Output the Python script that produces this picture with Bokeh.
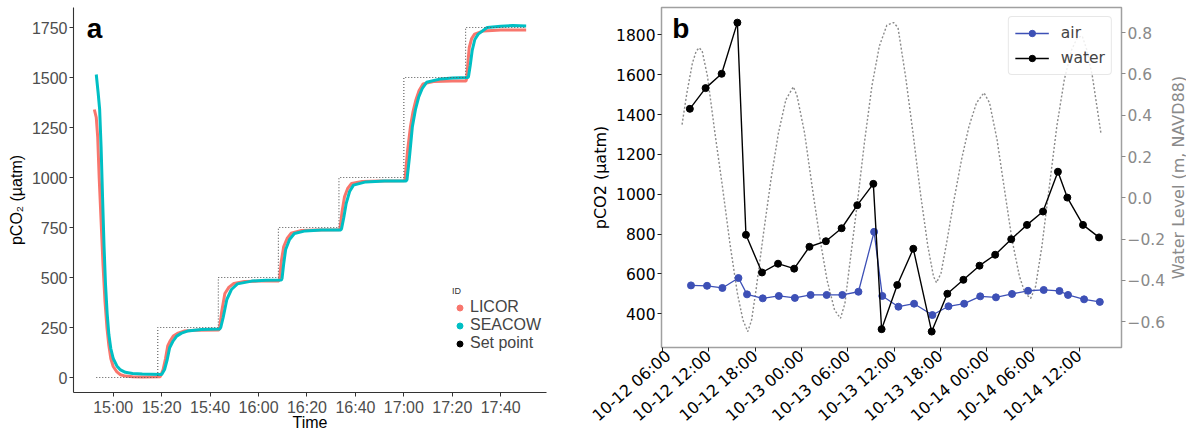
import math
from bokeh.plotting import figure
from bokeh.layouts import row
from bokeh.models import FixedTicker, Range1d, LinearAxis, Label, Legend, LegendItem
from bokeh.embed import file_html
from bokeh.resources import INLINE

# ---------------- Panel a: calibration steps (minutes after 15:00) ----------------
a_tick_minutes = [0, 20, 40, 60, 80, 100, 120, 140, 160]
a_tick_labels = ["15:00", "15:20", "15:40", "16:00", "16:20", "16:40", "17:00", "17:20", "17:40"]
a_y_ticks = [0, 250, 500, 750, 1000, 1250, 1500, 1750]

setpoint_t = [-7.0, 18.4, 18.4, 43.4, 43.4, 68.2, 68.2, 93.2, 93.2, 120.0, 120.0, 145.5, 145.5, 170.5]
setpoint_v = [0, 0, 250, 250, 500, 500, 750, 750, 1000, 1000, 1500, 1500, 1750, 1750]

licor_t = [-7.8, -7.0, -6.4, -5.8, -5.0, -4.2, -3.4, -2.6, -1.8, -1.0, 0.0, 1.5, 3.0, 5.0, 8.0, 12.0, 19.4,
           20.6, 21.6, 22.5, 23.6, 24.8, 26.8, 29.2, 33.6, 43.5,
           43.9, 44.8, 46.1, 47.8, 49.8, 54.2, 60.0, 68.4,
           68.7, 69.4, 70.4, 71.8, 73.4, 77.8, 84.0, 93.4,
           93.7, 94.5, 95.5, 96.8, 98.4, 102.8, 110.0, 120.2,
           120.5, 121.5, 122.7, 123.8, 124.9, 126.3, 127.9, 132.3, 140.0, 145.7,
           146.0, 146.5, 147.0, 148.0, 149.2, 152.9, 160.0, 170.5]
licor_v = [1340, 1300, 1200, 1000, 780, 560, 380, 250, 160, 95, 55, 28, 14, 7, 4, 3, 4,
           40, 95, 158, 185, 207, 222, 232, 236, 237,
           245, 330, 420, 452, 470, 480, 482, 483,
           495, 580, 655, 695, 721, 735, 738, 739,
           750, 830, 904, 945, 970, 980, 983, 984,
           995, 1130, 1252, 1330, 1385, 1435, 1468, 1480, 1482, 1483,
           1500, 1580, 1650, 1695, 1717, 1733, 1737, 1737]

seacow_t = [-7.0, -6.2, -5.6, -5.0, -4.4, -3.8, -3.2, -2.5, -1.8, -1.0, 0.0, 1.5, 3.0, 5.0, 8.0, 12.0, 20.0,
            21.2, 22.3, 23.3, 24.6, 26.2, 28.2, 30.6, 36.5, 44.0,
            44.4, 45.4, 46.9, 48.8, 51.3, 57.2, 63.0, 69.4,
            69.7, 70.4, 71.2, 72.8, 74.8, 79.3, 86.0, 94.0,
            94.3, 95.2, 96.2, 97.6, 99.2, 104.3, 112.0, 121.0,
            121.3, 122.3, 123.5, 124.8, 126.1, 127.6, 129.4, 135.2, 140.0, 146.4,
            146.7, 147.4, 148.2, 149.3, 150.7, 154.4, 160.0, 165.0, 170.5]
seacow_v = [1515, 1420, 1340, 1150, 900, 660, 470, 320, 215, 145, 95, 58, 38, 26, 20, 17, 15,
            40, 90, 149, 180, 207, 222, 232, 240, 243,
            250, 300, 390, 440, 468, 482, 486, 487,
            495, 570, 640, 690, 720, 733, 737, 738,
            745, 800, 871, 930, 962, 978, 982, 983,
            990, 1100, 1252, 1340, 1401, 1445, 1476, 1493, 1497, 1500,
            1505, 1560, 1634, 1690, 1717, 1750, 1756, 1760, 1758]

# ---------------- Panel b: field record (hours since 10-12 00:00) ----------------
b_tick_hours = [6, 12, 18, 24, 30, 36, 42, 48, 54, 60]
b_tick_labels = ["10-12 06:00", "10-12 12:00", "10-12 18:00", "10-13 00:00", "10-13 06:00",
                 "10-13 12:00", "10-13 18:00", "10-14 00:00", "10-14 06:00", "10-14 12:00"]
b_left_ticks = [400, 600, 800, 1000, 1200, 1400, 1600, 1800]
b_right_ticks = [-0.6, -0.4, -0.2, 0.0, 0.2, 0.4, 0.6, 0.8]
b_right_labels = ["\u22120.6", "\u22120.4", "\u22120.2", "0.0", "0.2", "0.4", "0.6", "0.8"]

water_hours = [9.53, 11.57, 13.65, 15.69, 16.80, 18.88, 20.96, 23.05, 25.03, 27.16, 29.20, 31.23, 33.31, 34.38,
               36.41, 38.49, 40.87, 42.90, 44.98, 47.07, 49.10, 51.18, 53.22, 55.30, 57.23, 58.45, 60.48, 62.56]
water_pco2 = [1429, 1533, 1605, 1862, 796, 607, 651, 626, 736, 764, 829, 945, 1052, 322,
              544, 726, 310, 500, 570, 641, 696, 774, 846, 913, 1113, 983, 846, 783]

air_hours = [9.68, 11.76, 13.75, 15.83, 16.94, 18.98, 21.06, 23.14, 25.18, 27.26, 29.29, 31.38, 33.41, 34.47,
             36.56, 38.59, 40.96, 43.05, 45.08, 47.16, 49.20, 51.28, 53.36, 55.39, 57.43, 58.54, 60.62, 62.66]
air_pco2 = [542, 540, 529, 579, 497, 477, 489, 479, 494, 494, 494, 510, 811, 489,
            435, 450, 393, 437, 450, 487, 482, 499, 515, 519, 514, 494, 472, 459]

tide_hours = [8.52, 9.15, 9.87, 10.36, 10.75, 11.13, 11.81, 12.78, 13.75, 14.72, 15.69, 16.41, 17.04, 17.53,
              18.11, 19.08, 20.04, 21.01, 21.98, 22.95, 23.43, 24.40, 25.37, 26.34, 27.31, 28.28, 29.05, 29.63,
              30.21, 31.18, 32.15, 33.12, 34.09, 35.06, 35.93, 36.51, 37.48, 38.45, 39.41, 40.38, 41.11, 41.50,
              42.08, 42.80, 43.77, 44.74, 45.71, 46.68, 47.65, 48.37, 49.34, 50.31, 51.28, 52.25, 52.97, 53.70,
              54.33, 55.15, 56.12, 57.09, 58.06, 59.03, 59.75, 60.38, 60.96, 61.69, 62.80]
tide_level = [0.355, 0.509, 0.654, 0.711, 0.727, 0.711, 0.590, 0.314, 0.056, -0.220, -0.462, -0.592, -0.648, -0.592,
              -0.446, -0.171, 0.088, 0.314, 0.476, 0.538, 0.493, 0.314, 0.056, -0.187, -0.398, -0.543, -0.584, -0.511,
              -0.333, -0.042, 0.266, 0.541, 0.735, 0.836, 0.849, 0.824, 0.590, 0.314, 0.023, -0.236, -0.381, -0.411,
              -0.365, -0.220, -0.009, 0.185, 0.347, 0.460, 0.509, 0.460, 0.282, 0.039, -0.203, -0.381, -0.462, -0.487,
              -0.430, -0.236, 0.056, 0.347, 0.573, 0.719, 0.776, 0.784, 0.719, 0.590, 0.314]

LICOR_C = "#F8766D"
SEACOW_C = "#00BFC4"
AIR_C = "#3D50B6"

# ---------------- Figure a ----------------
pa = figure(frame_width=473, frame_height=385,
            x_range=Range1d(-16.4, 178.9), y_range=Range1d(-75, 1850),
            min_border_left=73, min_border_right=42, min_border_top=7, min_border_bottom=0,
            output_backend="svg", toolbar_location=None)
pa.grid.visible = False
pa.outline_line_color = None

pa.line(licor_t, licor_v, line_color=LICOR_C, line_width=3)
pa.line(seacow_t, seacow_v, line_color=SEACOW_C, line_width=3)
pa.line(setpoint_t, setpoint_v, line_color="#555555", line_width=1.1, line_dash="1 2")

pa.xaxis.ticker = FixedTicker(ticks=a_tick_minutes)
pa.xaxis.major_label_overrides = dict(zip(a_tick_minutes, a_tick_labels))
pa.yaxis.ticker = FixedTicker(ticks=a_y_ticks)
for ax in (pa.xaxis[0], pa.yaxis[0]):
    ax.axis_line_color = "#333333"
    ax.axis_line_width = 1.1
    ax.major_tick_line_color = "#333333"
    ax.major_tick_out = 4
    ax.major_tick_in = 0
    ax.minor_tick_line_color = None
    ax.major_label_text_color = "#4D4D4D"
    ax.major_label_text_font = "Liberation Sans"
    ax.major_label_text_font_size = "16px"
    ax.major_label_standoff = 2
    ax.axis_label_text_font = "Liberation Sans"
    ax.axis_label_text_font_size = "16px"
    ax.axis_label_text_font_style = "normal"
    ax.axis_label_text_color = "black"
pa.xaxis.axis_label = "Time"
pa.xaxis.axis_label_standoff = -5
pa.yaxis.axis_label = "pCO\u2082 (\u00b5atm)"
pa.yaxis.axis_label_standoff = 4

# hidden point renderers of the real series, used only for the legend keys
ra1 = pa.scatter(licor_t, licor_v, marker="circle", size=7, fill_color=LICOR_C, line_color=LICOR_C, visible=False)
ra2 = pa.scatter(seacow_t, seacow_v, marker="circle", size=7, fill_color=SEACOW_C, line_color=SEACOW_C, visible=False)
ra3 = pa.scatter(setpoint_t, setpoint_v, marker="circle", size=7, fill_color="black", line_color="black", visible=False)
leg_a = Legend(items=[LegendItem(label="LICOR", renderers=[ra1]),
                      LegendItem(label="SEACOW", renderers=[ra2]),
                      LegendItem(label="Set point", renderers=[ra3])],
               location=(379, 40), title="ID")
leg_a.title_text_font = "Liberation Sans"
leg_a.title_text_font_size = "9px"
leg_a.title_text_font_style = "normal"
leg_a.title_text_color = "#333333"
leg_a.title_standoff = 2
leg_a.label_text_font = "Liberation Sans"
leg_a.label_text_font_size = "16px"
leg_a.label_height = 15
leg_a.glyph_height = 15
leg_a.glyph_width = 15
leg_a.label_standoff = 3
leg_a.spacing = 0
leg_a.padding = 0
leg_a.margin = 0
leg_a.border_line_color = None
leg_a.background_fill_alpha = 0
leg_a.click_policy = "none"
pa.add_layout(leg_a)

pa.add_layout(Label(x=-10.9, y=1745, text="a", text_font="Liberation Sans", text_font_style="bold",
                    text_font_size="28px", text_color="black", text_baseline="alphabetic"))

# ---------------- Figure b ----------------
pb = figure(frame_width=460, frame_height=340,
            x_range=Range1d(5.857, 65.47), y_range=Range1d(230, 1938),
            min_border_left=71, min_border_right=44, min_border_top=7, min_border_bottom=0,
            output_backend="svg", toolbar_location=None)
pb.grid.visible = False
pb.outline_line_color = "#a0a0a0"
pb.outline_line_width = 1.5
pb.extra_y_ranges = {"tide": Range1d(-0.725, 0.922)}

pb.line(tide_hours, tide_level, y_range_name="tide", line_color="#8a8a8a", line_width=1.4, line_dash="2 2")
pb.line(air_hours, air_pco2, line_color=AIR_C, line_width=1.3, legend_label="air")
pb.scatter(air_hours, air_pco2, marker="circle", size=7, fill_color=AIR_C, line_color=AIR_C, legend_label="air")
pb.line(water_hours, water_pco2, line_color="black", line_width=1.4, legend_label="water")
pb.scatter(water_hours, water_pco2, marker="circle", size=7, fill_color="black", line_color="black", legend_label="water")

ax_r = LinearAxis(y_range_name="tide", ticker=FixedTicker(ticks=b_right_ticks),
                  major_label_overrides=dict(zip(b_right_ticks, b_right_labels)))
pb.add_layout(ax_r, "right")

pb.xaxis.ticker = FixedTicker(ticks=b_tick_hours)
pb.xaxis.major_label_overrides = dict(zip(b_tick_hours, b_tick_labels))
pb.xaxis.major_label_orientation = 0.72
pb.yaxis[0].ticker = FixedTicker(ticks=b_left_ticks)
pb.yaxis[0].axis_label = "pCO2 (\u00b5atm)"
for ax in (pb.xaxis[0], pb.yaxis[0], ax_r):
    ax.axis_line_color = None
    ax.major_tick_out = 4
    ax.major_tick_in = 0
    ax.minor_tick_line_color = None
    ax.major_tick_line_color = "#222222"
    ax.major_label_text_font = "DejaVu Sans"
    ax.major_label_text_font_size = "15.5px"
    ax.major_label_text_color = "black"
    ax.major_label_standoff = 2
    ax.axis_label_text_font = "DejaVu Sans"
    ax.axis_label_text_font_size = "16px"
    ax.axis_label_text_font_style = "normal"
    ax.axis_label_text_color = "black"
    ax.axis_label_standoff = 3
pb.xaxis.major_label_text_font_size = "16px"
ax_r.major_tick_line_color = "#8a8a8a"
ax_r.major_label_text_color = "#8a8a8a"

leg_b = pb.legend[0]
leg_b.location = "top_right"
leg_b.margin = 9
leg_b.padding = 6
leg_b.spacing = 5
leg_b.border_line_color = "#d0d0d0"
leg_b.border_radius = 4
leg_b.background_fill_alpha = 0.85
leg_b.label_text_font = "DejaVu Sans"
leg_b.label_text_font_size = "15.5px"
leg_b.glyph_width = 34
leg_b.glyph_height = 16
leg_b.label_height = 20
leg_b.label_standoff = 12

pb.add_layout(Label(x=7.24, y=1835, text="b", text_font="Liberation Sans", text_font_style="bold",
                    text_font_size="28px", text_color="black", text_baseline="alphabetic"))

# narrow strip holding the right-hand axis title, reading bottom to top as in the reference
pc = figure(frame_width=20, frame_height=340, x_range=Range1d(0, 1), y_range=Range1d(0, 1),
            min_border_left=0, min_border_right=0, min_border_top=7, min_border_bottom=0,
            x_axis_location=None, y_axis_location=None,
            output_backend="svg", toolbar_location=None)
pc.grid.visible = False
pc.outline_line_color = None
pc.add_layout(Label(x=0.5, y=0.5, text="Water Level (m, NAVD88)", angle=math.pi / 2,
                    text_align="center", text_baseline="middle", text_font="DejaVu Sans",
                    text_font_size="16px", text_color="#8a8a8a"))

layout = row(pa, pb, pc)
open("out.html", "w").write(file_html(layout, INLINE))
